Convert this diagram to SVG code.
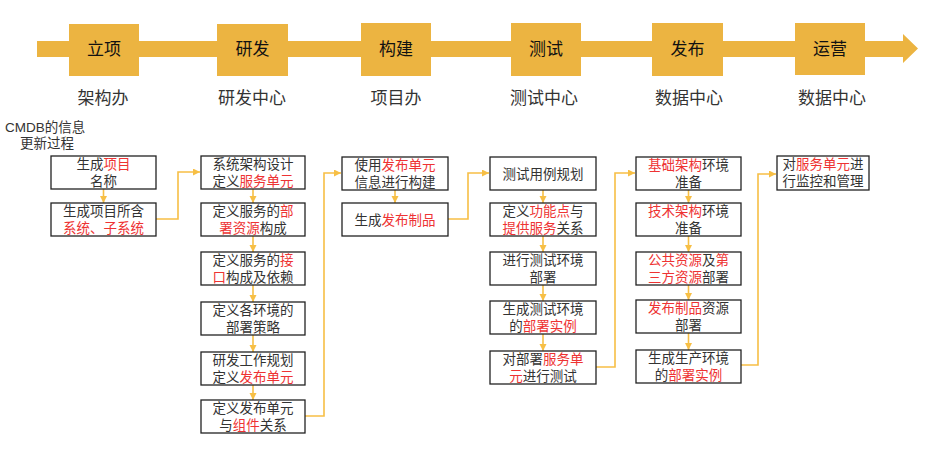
<svg xmlns="http://www.w3.org/2000/svg" width="947" height="450" viewBox="0 0 947 450">
<defs>
<style>
.bg{fill:#ffffff}
.band{fill:#ECB441}
.ph{font-family:"Liberation Sans","Noto Sans CJK SC",sans-serif;font-size:17px;fill:#111;text-anchor:middle}
.org{font-family:"Liberation Sans","Noto Sans CJK SC",sans-serif;font-size:17px;fill:#333;text-anchor:middle}
.note{font-family:"Liberation Sans","Noto Sans CJK SC",sans-serif;font-size:13.5px;fill:#333}
.box{fill:#fff;stroke:#222;stroke-width:1.3}
.t{font-family:"Liberation Sans","Noto Sans CJK SC",sans-serif;font-size:13.5px;fill:#333;text-anchor:middle}
.r{fill:#EE3333}
.c{fill:none;stroke:#F7BF45;stroke-width:1.6}
</style>
<marker id="ah" markerWidth="8" markerHeight="8" refX="7" refY="3.5" orient="auto" markerUnits="userSpaceOnUse">
<path d="M0,0 L7,3.5 L0,7 Z" fill="#F7BF45"/>
</marker>
</defs>
<rect class="bg" width="947" height="450"/>

<g id="timeline">
<path class="band" d="M37,41 H903 V34 L918,48.5 L903,63 V57 H37 Z"/>
<rect class="band" x="69" y="24" width="70" height="52"/>
<rect class="band" x="217" y="24" width="71" height="52"/>
<rect class="band" x="361" y="23" width="70" height="53"/>
<rect class="band" x="511" y="23" width="70" height="53"/>
<rect class="band" x="652" y="23" width="71" height="53"/>
<rect class="band" x="795" y="23" width="70" height="52"/>
<text class="ph" x="104" y="55">立项</text>
<text class="ph" x="252.5" y="55">研发</text>
<text class="ph" x="396" y="55">构建</text>
<text class="ph" x="546" y="55">测试</text>
<text class="ph" x="687.5" y="55">发布</text>
<text class="ph" x="830" y="55">运营</text>
<text class="org" x="103" y="104">架构办</text>
<text class="org" x="252" y="104">研发中心</text>
<text class="org" x="396" y="104">项目办</text>
<text class="org" x="544" y="104">测试中心</text>
<text class="org" x="689" y="104">数据中心</text>
<text class="org" x="832" y="104">数据中心</text>
</g>

<g id="caption">
<text class="note" x="5" y="132">CMDB的信息<tspan x="20" y="148">更新过程</tspan></text>
</g>

<g id="connectors">
<line class="c" x1="103.5" y1="189" x2="103.5" y2="203" marker-end="url(#ah)"/>
<path class="c" d="M156,219 H178 V172 H200" marker-end="url(#ah)"/>
<line class="c" x1="253" y1="189" x2="253" y2="203" marker-end="url(#ah)"/>
<line class="c" x1="253" y1="236" x2="253" y2="252" marker-end="url(#ah)"/>
<line class="c" x1="253" y1="285" x2="253" y2="302" marker-end="url(#ah)"/>
<line class="c" x1="253" y1="335" x2="253" y2="352" marker-end="url(#ah)"/>
<line class="c" x1="253" y1="385" x2="253" y2="400" marker-end="url(#ah)"/>
<path class="c" d="M305,416 H324 V173 H341" marker-end="url(#ah)"/>
<line class="c" x1="395" y1="190" x2="395" y2="203" marker-end="url(#ah)"/>
<path class="c" d="M448,219 H468 V173 H489" marker-end="url(#ah)"/>
<line class="c" x1="543" y1="190" x2="543" y2="203" marker-end="url(#ah)"/>
<line class="c" x1="543" y1="236" x2="543" y2="252" marker-end="url(#ah)"/>
<line class="c" x1="543" y1="285" x2="543" y2="301" marker-end="url(#ah)"/>
<line class="c" x1="543" y1="334" x2="543" y2="351" marker-end="url(#ah)"/>
<path class="c" d="M596,367 H615 V173 H635" marker-end="url(#ah)"/>
<line class="c" x1="688.5" y1="190" x2="688.5" y2="203" marker-end="url(#ah)"/>
<line class="c" x1="688.5" y1="236" x2="688.5" y2="252" marker-end="url(#ah)"/>
<line class="c" x1="688.5" y1="285" x2="688.5" y2="300" marker-end="url(#ah)"/>
<line class="c" x1="688.5" y1="333" x2="688.5" y2="350" marker-end="url(#ah)"/>
<path class="c" d="M741,365 H758 V174 H776" marker-end="url(#ah)"/>
</g>

<g id="n1-1"><rect class="box" x="51" y="156" width="105" height="33"/>
<text class="t" x="103.5" y="168.5">生成<tspan class="r">项目</tspan><tspan x="103.5" y="186">名称</tspan></text></g>
<g id="n1-2"><rect class="box" x="51" y="203" width="105" height="33"/>
<text class="t" x="103.5" y="215.5">生成项目所含<tspan class="r" x="103.5" y="233">系统、子系统</tspan></text></g>

<g id="n2-1"><rect class="box" x="201" y="156" width="104" height="33"/>
<text class="t" x="253" y="168.5">系统架构设计<tspan x="253" y="186">定义</tspan><tspan class="r">服务单元</tspan></text></g>
<g id="n2-2"><rect class="box" x="201" y="203" width="104" height="33"/>
<text class="t" x="253" y="215.5">定义服务的<tspan class="r">部</tspan><tspan class="r" x="253" y="233">署资源</tspan>构成</text></g>
<g id="n2-3"><rect class="box" x="201" y="252" width="104" height="33"/>
<text class="t" x="253" y="264.5">定义服务的<tspan class="r">接</tspan><tspan class="r" x="253" y="282">口</tspan>构成及依赖</text></g>
<g id="n2-4"><rect class="box" x="201" y="302" width="104" height="33"/>
<text class="t" x="253" y="314.5">定义各环境的<tspan x="253" y="332">部署策略</tspan></text></g>
<g id="n2-5"><rect class="box" x="201" y="352" width="104" height="33"/>
<text class="t" x="253" y="364.5">研发工作规划<tspan x="253" y="382">定义</tspan><tspan class="r">发布单元</tspan></text></g>
<g id="n2-6"><rect class="box" x="201" y="400" width="104" height="33"/>
<text class="t" x="253" y="412.5">定义发布单元<tspan x="253" y="430">与</tspan><tspan class="r">组件</tspan>关系</text></g>

<g id="n3-1"><rect class="box" x="342" y="157" width="106" height="33"/>
<text class="t" x="395" y="169.5">使用<tspan class="r">发布单元</tspan><tspan x="395" y="187">信息进行构建</tspan></text></g>
<g id="n3-2"><rect class="box" x="342" y="203" width="106" height="33"/>
<text class="t" x="395" y="224.5">生成<tspan class="r">发布制品</tspan></text></g>

<g id="n4-1"><rect class="box" x="490" y="157" width="106" height="33"/>
<text class="t" x="543" y="178.5">测试用例规划</text></g>
<g id="n4-2"><rect class="box" x="490" y="203" width="106" height="33"/>
<text class="t" x="543" y="215.5">定义<tspan class="r">功能点</tspan>与<tspan class="r" x="543" y="233">提供服务</tspan>关系</text></g>
<g id="n4-3"><rect class="box" x="490" y="252" width="106" height="33"/>
<text class="t" x="543" y="264.5">进行测试环境<tspan x="543" y="282">部署</tspan></text></g>
<g id="n4-4"><rect class="box" x="490" y="301" width="106" height="33"/>
<text class="t" x="543" y="313.5">生成测试环境<tspan x="543" y="331">的</tspan><tspan class="r">部署实例</tspan></text></g>
<g id="n4-5"><rect class="box" x="490" y="351" width="106" height="33"/>
<text class="t" x="543" y="363.5">对部署<tspan class="r">服务单</tspan><tspan class="r" x="543" y="381">元</tspan>进行测试</text></g>

<g id="n5-1"><rect class="box" x="636" y="157" width="105" height="33"/>
<text class="t" x="688.5" y="169.5"><tspan class="r">基础架构</tspan>环境<tspan x="688.5" y="187">准备</tspan></text></g>
<g id="n5-2"><rect class="box" x="636" y="203" width="105" height="33"/>
<text class="t" x="688.5" y="215.5"><tspan class="r">技术架构</tspan>环境<tspan x="688.5" y="233">准备</tspan></text></g>
<g id="n5-3"><rect class="box" x="636" y="252" width="105" height="33"/>
<text class="t" x="688.5" y="264.5"><tspan class="r">公共资源</tspan>及<tspan class="r">第</tspan><tspan class="r" x="688.5" y="282">三方资源</tspan>部署</text></g>
<g id="n5-4"><rect class="box" x="636" y="300" width="105" height="33"/>
<text class="t" x="688.5" y="312.5"><tspan class="r">发布制品</tspan>资源<tspan x="688.5" y="330">部署</tspan></text></g>
<g id="n5-5"><rect class="box" x="636" y="350" width="105" height="33"/>
<text class="t" x="688.5" y="362.5">生成生产环境<tspan x="688.5" y="380">的</tspan><tspan class="r">部署实例</tspan></text></g>

<g id="n6-1"><rect class="box" x="777" y="156" width="92" height="34"/>
<text class="t" x="823" y="168.5">对<tspan class="r">服务单元</tspan>进<tspan x="823" y="186">行监控和管理</tspan></text></g>
</svg>
